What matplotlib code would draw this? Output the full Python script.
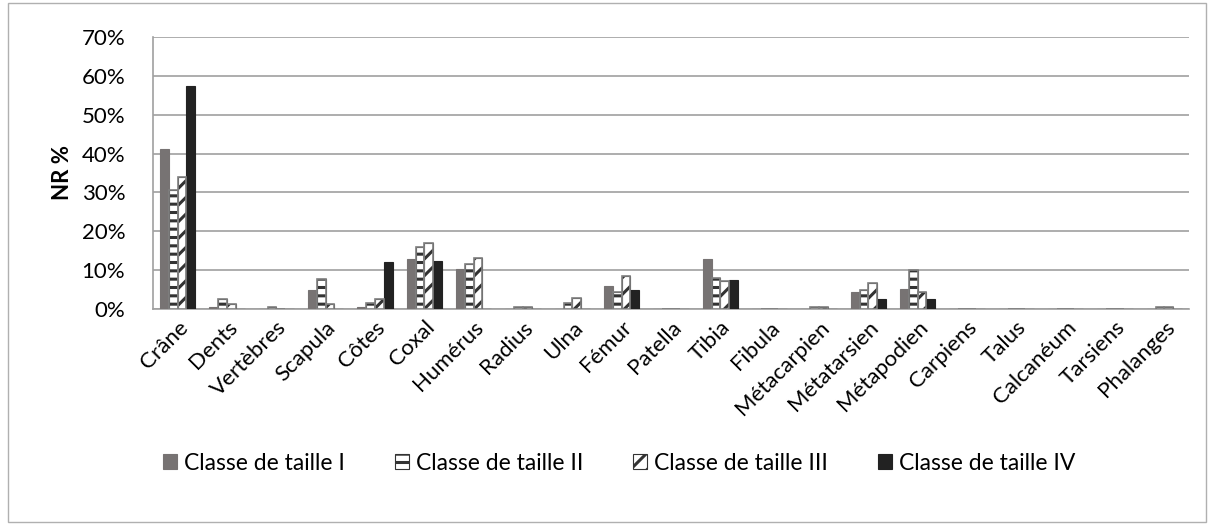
import numpy as np
import matplotlib
matplotlib.use("Agg")
import matplotlib.pyplot as plt
from matplotlib.patches import Rectangle

plt.rcParams['font.family'] = ['Lato', 'DejaVu Sans']
plt.rcParams['hatch.linewidth'] = 2.2

categories = ['Crâne', 'Dents', 'Vertèbres', 'Scapula', 'Côtes', 'Coxal', 'Humérus',
              'Radius', 'Ulna', 'Fémur', 'Patella', 'Tibia', 'Fibula', 'Métacarpien',
              'Métatarsien', 'Métapodien', 'Carpiens', 'Talus', 'Calcanéum', 'Tarsiens',
              'Phalanges']

classe_1 = [41.1, 0.6, 0.0, 4.9, 0.6, 12.9, 10.3, 0.0, 0.0, 5.9, 0.0, 12.8, 0.0, 0.0,
            4.3, 5.1, 0.0, 0.0, 0.0, 0.0, 0.0]
classe_2 = [30.6, 2.6, 0.4, 7.7, 1.6, 16.0, 11.6, 0.4, 1.5, 4.4, 0.0, 8.0, 0.0, 0.4,
            5.0, 10.0, 0.0, 0.0, 0.0, 0.0, 0.4]
classe_3 = [34.0, 1.4, 0.0, 1.2, 2.5, 17.0, 13.0, 0.4, 2.9, 8.6, 0.0, 7.2, 0.0, 0.5,
            6.6, 4.4, 0.0, 0.0, 0.0, 0.0, 0.4]
classe_4 = [57.3, 0.0, 0.0, 0.0, 12.2, 12.4, 0.0, 0.0, 0.0, 4.9, 0.0, 7.4, 0.0, 0.0,
            2.5, 2.5, 0.0, 0.0, 0.0, 0.0, 0.0]
series_names = ['Classe de taille I', 'Classe de taille II',
                'Classe de taille III', 'Classe de taille IV']

fig = plt.figure(figsize=(12.14, 5.25), dpi=100)
ax = fig.add_axes([153 / 1214, 1 - 309 / 525, (1189 - 153) / 1214, (309 - 37) / 525])

x = np.arange(len(categories))
w = 0.179
styles = [
    dict(color='#777373', edgecolor='#777373'),
    dict(facecolor='white', edgecolor='#333333', hatch='--'),
    dict(facecolor='white', edgecolor='#333333', hatch='//'),
    dict(color='#222222', edgecolor='#222222'),
]
handles = []
for i, (vals, st) in enumerate(zip([classe_1, classe_2, classe_3, classe_4], styles)):
    b = ax.bar(x + (i - 1.5) * w, vals, w, linewidth=0.8, label=series_names[i],
               zorder=3, **st)
    if 'hatch' in st:
        # grey outline drawn over the hatch, like the original
        for r in b:
            ax.add_patch(Rectangle(r.get_xy(), r.get_width(), r.get_height(),
                                   fill=False, edgecolor='#808080', linewidth=1.2, zorder=4))
    handles.append(b)

ax.set_xlim(-0.5, len(categories) - 0.5)
ax.set_ylim(0, 70)
ax.set_yticks(np.arange(0, 71, 10))
ax.set_yticklabels([f'{v}%' for v in range(0, 71, 10)], fontsize=16)
ax.yaxis.grid(True, color='#a0a0a0', linewidth=1.2, zorder=0)
ax.set_axisbelow(True)
for s in ['top', 'right']:
    ax.spines[s].set_visible(False)
for s in ['left', 'bottom']:
    ax.spines[s].set_color('#a0a0a0')
    ax.spines[s].set_linewidth(1.2)
ax.tick_params(axis='y', length=0, pad=20)
ax.tick_params(axis='x', length=0, pad=6)
ax.set_xticks(x)
ax.set_xticklabels(categories, rotation=45, ha='right', va='top',
                   rotation_mode='anchor', fontsize=16)
ax.set_ylabel('NR %', fontsize=16, fontweight='bold', labelpad=6)

fig.legend(handles=handles, loc='center', bbox_to_anchor=(0.51, 1 - 463 / 525), ncol=4,
           frameon=False, fontsize=16.5, handlelength=0.6, handleheight=0.6,
           handletextpad=0.3, columnspacing=2.2)

fig.patches.append(Rectangle((8 / 1214, 3 / 525), 1 - 16 / 1214, 1 - 6 / 525,
                             transform=fig.transFigure, fill=False,
                             edgecolor='#b0b0b0', linewidth=1))

fig.savefig('out.png', dpi=100)
